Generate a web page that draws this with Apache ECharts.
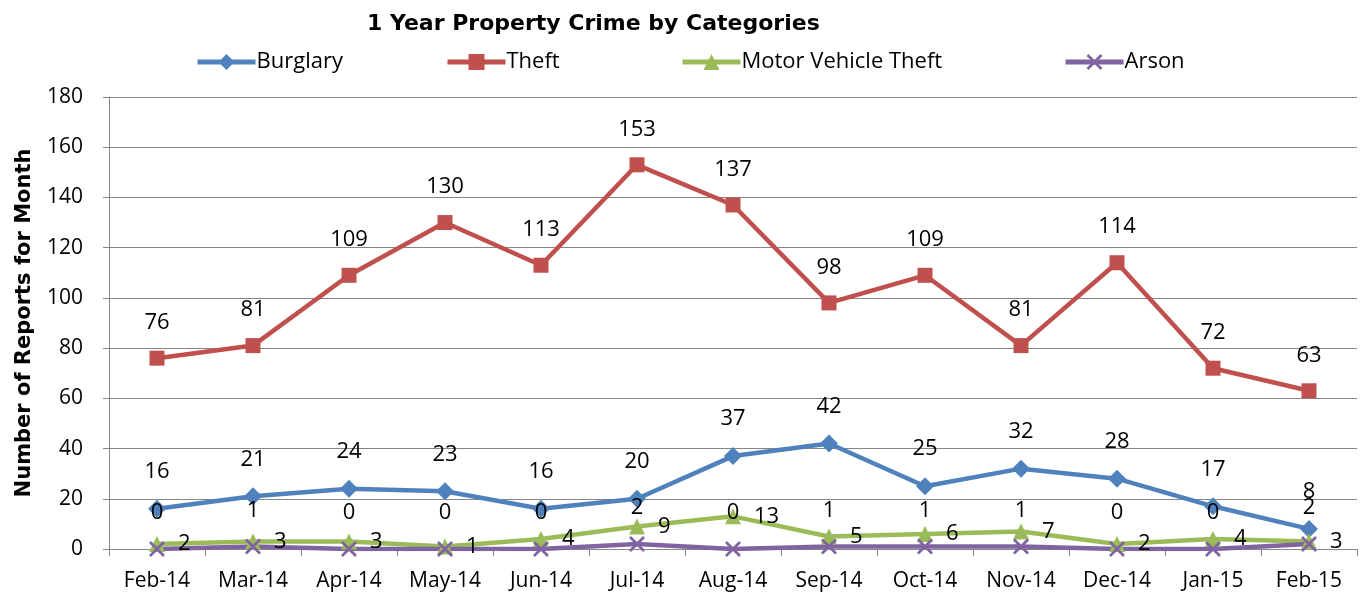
<!DOCTYPE html>
<html>
<head>
<meta charset="utf-8">
<script src="https://cdn.jsdelivr.net/npm/echarts@6/dist/echarts.min.js"></script>
<style>
  html, body { margin: 0; padding: 0; background: #fff; }
  #chart { width: 1361px; height: 596px; }
</style>
</head>
<body>
<div id="chart"></div>
<script>
const months = ["Feb-14", "Mar-14", "Apr-14", "May-14", "Jun-14", "Jul-14", "Aug-14",
  "Sep-14", "Oct-14", "Nov-14", "Dec-14", "Jan-15", "Feb-15"];
const burglary = [16, 21, 24, 23, 16, 20, 37, 42, 25, 32, 28, 17, 8];
const theft = [76, 81, 109, 130, 113, 153, 137, 98, 109, 81, 114, 72, 63];
const motorVehicle = [2, 3, 3, 1, 4, 9, 13, 5, 6, 7, 2, 4, 3];
const arson = [0, 1, 0, 0, 0, 2, 0, 1, 1, 1, 0, 0, 2];

const FONT = "'Open Sans', Lato, sans-serif";
const BOLD = "'DejaVu Sans', 'Liberation Sans', sans-serif";
const GRID = "#868686";
// X marker drawn as a thin filled cross
const X_MARK = "path://M0,1.2 L1.2,0 L5,3.8 L8.8,0 L10,1.2 L6.2,5 L10,8.8 L8.8,10 L5,6.2 L1.2,10 L0,8.8 L3.8,5 Z";

const chart = echarts.init(document.getElementById("chart"), null, { renderer: "canvas" });

function lineSeries(name, data, color, symbol, size, labelPos) {
  return {
    name,
    type: "line",
    data,
    symbol,
    symbolSize: size,
    showAllSymbol: true,
    lineStyle: { color, width: 4.5 },
    itemStyle: { color },
    label: {
      show: true,
      position: labelPos,
      distance: labelPos === "right" ? 13 : 17,
      color: "#000",
      fontFamily: FONT,
      fontSize: 22,
    },
    emphasis: { disabled: true },
  };
}

function legendAt(name, left) {
  return {
    data: [name],
    left,
    top: 46,
    itemWidth: 58,
    itemHeight: 20,
    lineStyle: { width: 5 },
    textStyle: { fontFamily: FONT, fontSize: 22, color: "#000", padding: [0, 0, 0, -4] },
  };
}

chart.setOption({
  animation: false,
  backgroundColor: "#fff",
  title: {
    text: "1 Year Property Crime by Categories",
    left: 362,
    top: 8,
    textStyle: { fontFamily: BOLD, fontWeight: "bold", fontSize: 22, color: "#000" },
  },
  legend: [
    legendAt("Burglary", 190),
    legendAt("Theft", 440),
    legendAt("Motor Vehicle Theft", 675),
    legendAt("Arson", 1058),
  ],
  grid: { left: 109, right: 4, top: 97, bottom: 47 },
  xAxis: {
    type: "category",
    data: months,
    boundaryGap: true,
    axisLine: { lineStyle: { color: GRID, width: 1 } },
    axisTick: { show: true, length: 7, lineStyle: { color: GRID } },
    axisLabel: { color: "#000", fontFamily: FONT, fontSize: 21, margin: 22 },
    splitLine: { show: false },
  },
  yAxis: {
    type: "value",
    min: 0,
    max: 180,
    interval: 20,
    name: "Number of Reports for Month",
    nameLocation: "middle",
    nameGap: 74,
    nameTextStyle: { fontFamily: BOLD, fontWeight: "bold", fontSize: 21, color: "#000" },
    axisLine: { show: true, lineStyle: { color: GRID, width: 1 } },
    axisTick: { show: true, length: 6, lineStyle: { color: GRID } },
    axisLabel: { color: "#000", fontFamily: FONT, fontSize: 21, margin: 26 },
    splitLine: { lineStyle: { color: GRID, width: 1 } },
  },
  series: [
    lineSeries("Burglary", burglary, "#4F81BD", "diamond", 18, "top"),
    lineSeries("Theft", theft, "#C0504D", "rect", 15, "top"),
    lineSeries("Motor Vehicle Theft", motorVehicle, "#9BBB59", "triangle", 16, "right"),
    lineSeries("Arson", arson, "#8064A2", X_MARK, 16, "top"),
  ],
});
</script>
</body>
</html>
